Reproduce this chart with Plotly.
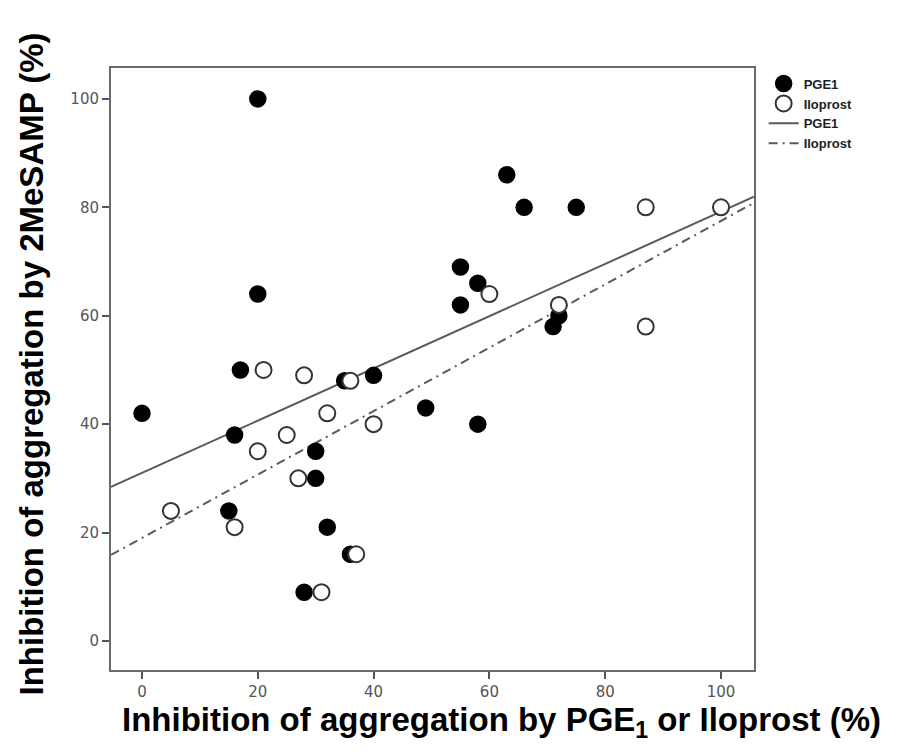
import plotly.graph_objects as go

# Inhibition of aggregation (%) by PGE1 (x) vs. by 2MeSAMP (y)
pge1_x = [0, 15, 16, 17, 20, 20, 28, 30, 30, 32, 35, 36, 40, 49, 55, 55, 58, 58, 63, 66, 71, 72, 75]
pge1_y = [42, 24, 38, 50, 100, 64, 9, 35, 30, 21, 48, 16, 49, 43, 69, 62, 40, 66, 86, 80, 58, 60, 80]

# Inhibition of aggregation (%) by Iloprost (x) vs. by 2MeSAMP (y)
ilo_x = [5, 16, 20, 21, 25, 27, 28, 31, 32, 36, 37, 40, 60, 72, 87, 87, 100]
ilo_y = [24, 21, 35, 50, 38, 30, 49, 9, 42, 48, 16, 40, 64, 62, 80, 58, 80]

# Linear fit lines (intercept, slope)
pge1_fit = (31.0, 0.482)
ilo_fit = (19.0, 0.585)

x_range = [-5.35, 105.7]
y_range = [-5.35, 105.7]
tick_vals = [0, 20, 40, 60, 80, 100]

fig = go.Figure()

for name, (b0, b1), dash in [("PGE1", pge1_fit, "solid"), ("Iloprost", ilo_fit, "9px,5px,2px,5px")]:
    fx = x_range
    fy = [b0 + b1 * v for v in fx]
    fig.add_trace(go.Scatter(
        x=fx, y=fy, mode="lines", name=name,
        line=dict(color="#5a5a5a", width=2, dash=dash),
        legendrank=3 if name == "PGE1" else 4,
    ))

fig.add_trace(go.Scatter(
    x=pge1_x, y=pge1_y, mode="markers", name="PGE1",
    marker=dict(symbol="circle", size=16, color="black", line=dict(color="black", width=1.5)),
    legendrank=1,
))
fig.add_trace(go.Scatter(
    x=ilo_x, y=ilo_y, mode="markers", name="Iloprost",
    marker=dict(symbol="circle", size=16, color="white", line=dict(color="#333333", width=2)),
    legendrank=2,
))

axis_common = dict(
    tickvals=tick_vals, ticks="outside", ticklen=7, tickwidth=2,
    tickcolor="#555555", showline=True, linecolor="#6a6a6a", linewidth=2,
    mirror=True, showgrid=False, zeroline=False,
    tickfont=dict(family="DejaVu Sans, sans-serif", size=15, color="#555555"),
)

fig.update_xaxes(**{**axis_common, "range": x_range})
fig.update_yaxes(**{**axis_common, "range": y_range})

title_font = dict(family="Liberation Sans, Arial, sans-serif", size=33, color="black", weight="bold")

fig.add_annotation(
    text="Inhibition of aggregation by PGE<sub>1</sub> or Iloprost (%)",
    xref="paper", yref="paper", x=0.608, y=-0.086, xanchor="center", yanchor="middle",
    showarrow=False, font=title_font,
)
fig.add_annotation(
    text="Inhibition of aggregation by 2MeSAMP (%)",
    xref="paper", yref="paper", x=-0.124, y=0.508, xanchor="center", yanchor="middle",
    textangle=-90, showarrow=False, font=title_font,
)

fig.update_layout(
    width=901, height=756,
    margin=dict(l=111, r=147, t=68, b=86),
    paper_bgcolor="white", plot_bgcolor="white",
    legend=dict(
        x=1.015, y=0.999, xanchor="left", yanchor="top",
        font=dict(family="Liberation Sans, Arial, sans-serif", size=13, color="#222222", weight="bold"),
        tracegroupgap=0, itemwidth=30, bgcolor="rgba(0,0,0,0)",
    ),
)

fig.write_html("out.html")
